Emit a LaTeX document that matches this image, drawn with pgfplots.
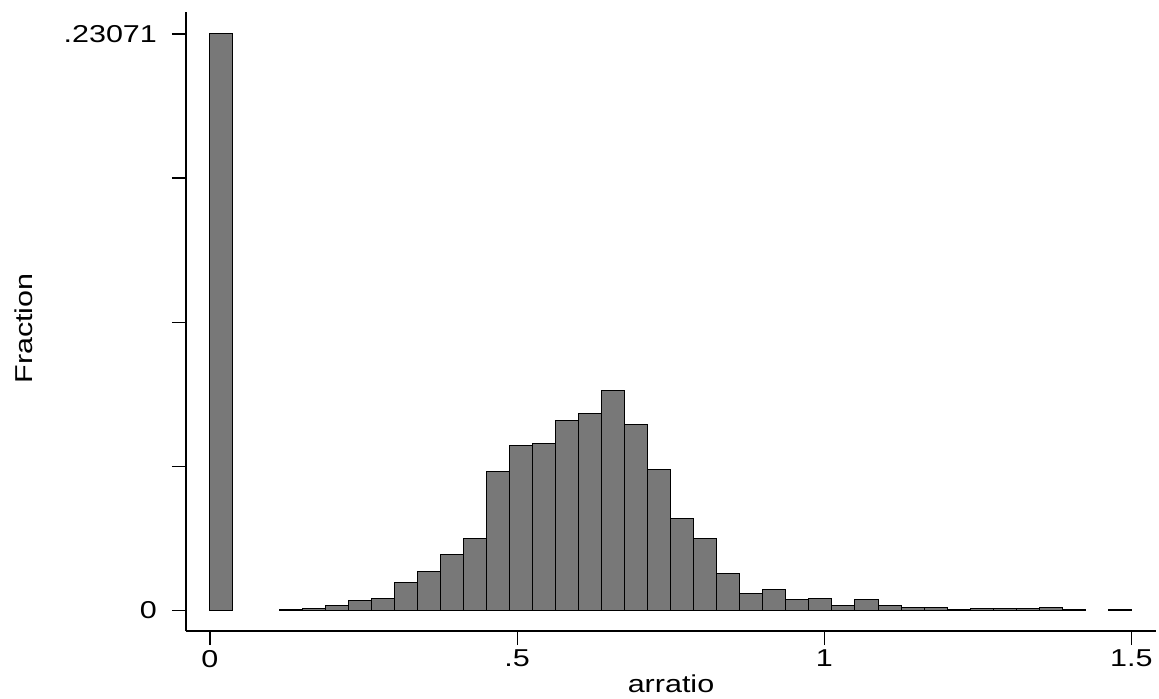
\documentclass[border=0pt]{standalone}
\usepackage{fontspec}
\setmainfont{Liberation Sans}
\usepackage{graphicx}
\usepackage{pgfplots}
\pgfplotsset{compat=1.18}
\definecolor{barfill}{RGB}{120,120,120}
\newcommand\wide[1]{\scalebox{1.25}[1]{#1}}
\newcommand\lblfont{\fontsize{12.2}{14}\selectfont}

\begin{document}
\begin{tikzpicture}
\useasboundingbox (-93pt,-33.5pt) rectangle (486.5pt,315.5pt);
\begin{axis}[
  at={(0,0)}, anchor=south west,
  scale only axis,
  width=485pt, height=309.5pt,
  xmin=-0.039, xmax=1.54,
  ymin=-0.0083, ymax=0.2395,
  axis x line*=bottom, axis y line*=left,
  axis line style={-, line width=0.6pt},
  tick align=outside, major tick length=7pt,
  tick style={black, line width=0.6pt},
  xtick={0,0.5,1,1.5},
  xticklabels={\wide{0},\wide{.5},\wide{1},\wide{1.5}},
  ytick={0,0.0576775,0.115355,0.1730325,0.23071},
  yticklabels={\wide{0},,,,\wide{.23071}},
  tick label style={font=\lblfont},
  yticklabel style={xshift=-4pt},
  xticklabel style={yshift=1pt},
  xlabel={\lblfont\wide{arratio}},
  ylabel={\lblfont\wide{Fraction}},
  every axis x label/.style={at={([yshift=-30.5pt]rel axis cs:0.5,0)}, anchor=base},
  every axis y label/.style={at={([xshift=-76.5pt]rel axis cs:0,0.4887)}, rotate=90, anchor=base},
]
% bin width 0.0375, fraction per bin
\addplot[ybar interval, fill=barfill, draw=black, line width=0.5pt]
  coordinates {(0,0.23071) (0.0375,0)};
\addplot[ybar interval, fill=barfill, draw=black, line width=0.5pt]
  coordinates {
  (0.1125,0.0004) (0.15,0.0008) (0.1875,0.0018) (0.225,0.0040)
  (0.2625,0.0046) (0.3,0.0112) (0.3375,0.0155) (0.375,0.0224)
  (0.4125,0.0289) (0.45,0.0556) (0.4875,0.0658) (0.525,0.0667)
  (0.5625,0.0759) (0.6,0.0787) (0.6375,0.0879) (0.675,0.0745)
  (0.7125,0.0563) (0.75,0.0368) (0.7875,0.0289) (0.825,0.0149)
  (0.8625,0.0068) (0.9,0.0083) (0.9375,0.0044) (0.975,0.0048)
  (1.0125,0.0020) (1.05,0.0044) (1.0875,0.0020) (1.125,0.0012)
  (1.1625,0.0012) (1.2,0.0004) (1.2375,0.0008) (1.275,0.0008)
  (1.3125,0.0008) (1.35,0.0013) (1.3875,0.0004) (1.425,0)
  };
\addplot[ybar interval, fill=barfill, draw=black, line width=0.5pt]
  coordinates {(1.4625,0.0004) (1.5,0)};
\end{axis}
\end{tikzpicture}
\end{document}
